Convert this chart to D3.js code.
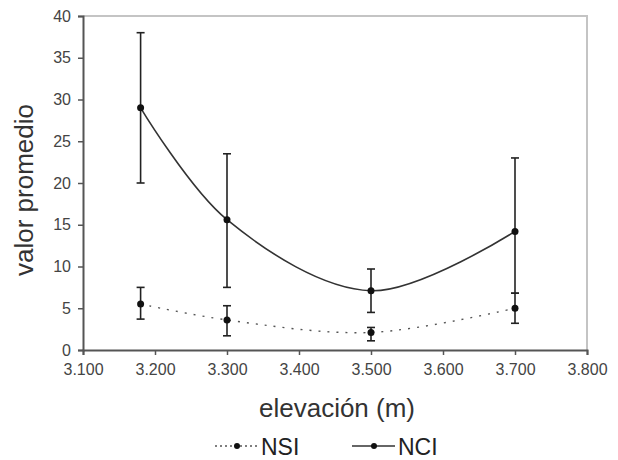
<!DOCTYPE html>
<html>
<head>
<meta charset="utf-8">
<script src="https://cdn.jsdelivr.net/npm/d3@7"></script>
<style>
  body { margin: 0; background: #fff; }
  text { font-family: "Liberation Sans", Arial, sans-serif; }
</style>
</head>
<body>
<div id="chart"></div>
<script>
const elevations = [3180, 3300, 3500, 3700];

const nciMean = [29.0, 15.6, 7.1, 14.2];
const nciHigh = [38.0, 23.5, 9.7, 23.0];
const nciLow  = [20.0, 7.5, 4.5, 6.8];

const nsiMean = [5.5, 3.6, 2.1, 5.0];
const nsiHigh = [7.5, 5.3, 2.7, 6.8];
const nsiLow  = [3.7, 1.7, 1.1, 3.2];

const xTicks = [3100, 3200, 3300, 3400, 3500, 3600, 3700, 3800];
const yTicks = [0, 5, 10, 15, 20, 25, 30, 35, 40];

const W = 618, H = 460;
const margin = { top: 16, right: 31, bottom: 110, left: 83 };
const width = W - margin.left - margin.right,
      height = H - margin.top - margin.bottom;

const svg = d3.select("#chart")
  .append("svg")
  .attr("width", W)
  .attr("height", H);

const g = svg.append("g")
  .attr("transform", `translate(${margin.left},${margin.top})`);

const xScale = d3.scaleLinear().domain([3100, 3800]).range([0, width]);
const yScale = d3.scaleLinear().domain([0, 40]).range([height, 0]);

// es formatting: 3.100
const fmtX = d => d3.format(",")(d).replace(",", ".");

// light frame on top and right
g.append("path")
  .attr("d", `M0,0H${width}V${height}`)
  .attr("fill", "none")
  .attr("stroke", "#c4c4c4")
  .attr("stroke-width", 2);

const xAxis = g.append("g")
  .attr("transform", `translate(0,${height})`)
  .call(d3.axisBottom(xScale).tickValues(xTicks).tickFormat(fmtX).tickSize(5).tickPadding(9));

const yAxis = g.append("g")
  .call(d3.axisLeft(yScale).tickValues(yTicks).tickSize(5).tickPadding(7));

[xAxis, yAxis].forEach(ax => {
  ax.select(".domain").attr("stroke", "#555").attr("stroke-width", 2);
  ax.selectAll(".tick line").attr("stroke", "#555").attr("stroke-width", 1.5);
  ax.selectAll(".tick text")
    .attr("font-size", "16px")
    .attr("fill", "#444")
    .style("font-family", "'Liberation Sans', Arial, sans-serif");
});

// axis titles
svg.append("text")
  .attr("x", 337)
  .attr("y", 417)
  .attr("text-anchor", "middle")
  .attr("font-size", "26px")
  .attr("fill", "#333")
  .text("elevación (m)");

svg.append("text")
  .attr("transform", "translate(33,190) rotate(-90)")
  .attr("text-anchor", "middle")
  .attr("font-size", "26px")
  .attr("fill", "#333")
  .text("valor promedio");

function makeSeries(mean, low, high) {
  return elevations.map((e, i) => ({ x: e, y: mean[i], lo: low[i], hi: high[i] }));
}

const nci = makeSeries(nciMean, nciLow, nciHigh);
const nsi = makeSeries(nsiMean, nsiLow, nsiHigh);

const line = d3.line()
  .x(d => xScale(d.x))
  .y(d => yScale(d.y))
  .curve(d3.curveCatmullRom.alpha(0.5));

g.append("path")
  .attr("d", line(nci))
  .attr("fill", "none")
  .attr("stroke", "#333")
  .attr("stroke-width", 1.6);

g.append("path")
  .attr("d", line(nsi))
  .attr("fill", "none")
  .attr("stroke", "#555")
  .attr("stroke-width", 1.4)
  .attr("stroke-dasharray", "2,7");

function errorBars(data) {
  const eb = g.append("g").attr("stroke", "#222").attr("stroke-width", 1.6);
  data.forEach(d => {
    const x = xScale(d.x);
    eb.append("line").attr("x1", x).attr("x2", x)
      .attr("y1", yScale(d.hi)).attr("y2", yScale(d.lo));
    [d.hi, d.lo].forEach(v => {
      eb.append("line").attr("x1", x - 4).attr("x2", x + 4)
        .attr("y1", yScale(v)).attr("y2", yScale(v));
    });
  });
  g.append("g").selectAll("circle")
    .data(data)
    .enter()
    .append("circle")
    .attr("cx", d => xScale(d.x))
    .attr("cy", d => yScale(d.y))
    .attr("r", 3.5)
    .attr("fill", "#111");
}

errorBars(nci);
errorBars(nsi);

// legend
const legendItems = [
  { label: "NSI", x: 215, dash: "2,3", color: "#555" },
  { label: "NCI", x: 352, dash: null, color: "#333" }
];
const legend = svg.append("g").attr("transform", "translate(0,446)");
legendItems.forEach(item => {
  const li = legend.append("g").attr("transform", `translate(${item.x},0)`);
  li.append("line")
    .attr("x1", 0).attr("x2", 43)
    .attr("y1", 0).attr("y2", 0)
    .attr("stroke", item.color)
    .attr("stroke-width", 1.5)
    .attr("stroke-dasharray", item.dash);
  li.append("circle").attr("cx", 22).attr("cy", 0).attr("r", 3).attr("fill", "#111");
  li.append("text")
    .attr("x", 46)
    .attr("y", 9)
    .attr("font-size", "23px")
    .attr("fill", "#222")
    .text(item.label);
});
</script>
</body>
</html>
